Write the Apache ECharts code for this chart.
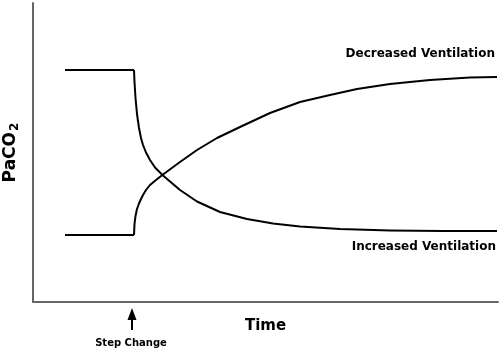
<!DOCTYPE html>
<html>
<head>
<meta charset="utf-8">
<script src="https://cdn.jsdelivr.net/npm/echarts@6/dist/echarts.min.js"></script>
<style>
  html, body { margin: 0; padding: 0; background: #fff; }
  #chart { width: 500px; height: 354px; }
</style>
</head>
<body>
<div id="chart"></div>
<script>
// time / PaCO2 in arbitrary units, step change at t = 101
var flatTime = [32, 101];
var decreasedBefore = [67, 67];
var increasedBefore = [232, 232];

var decreasedTime = [101, 101.5, 102.5, 104, 106, 108, 110, 113, 117, 123, 130, 147, 164, 184, 207, 237, 267, 297, 324, 357, 397, 437, 464];
var decreasedVent = [67, 78, 86, 93, 98.5, 103, 107, 112, 117, 122, 127.5, 140, 152, 164, 175, 189, 200, 207, 213, 218, 222, 224.5, 225];

var increasedTime = [101, 101.5, 102.5, 104, 106, 108, 110, 113, 117, 122, 130, 147, 164, 187, 214, 240, 267, 307, 357, 410, 464];
var increasedVent = [232, 220, 204, 188, 174, 164, 157, 149.5, 142, 134.5, 126.5, 112, 100.5, 90, 83, 78.5, 75.5, 73, 71.5, 71, 71];

var fontFam = "DejaVu Sans";

function pairs(xs, ys) {
    return xs.map(function (x, i) { return [x, ys[i]]; });
}

var lineStyle = { color: "#000", width: 2, join: "round" };

var chart = echarts.init(document.getElementById("chart"));
chart.setOption({
    animation: false,
    grid: { left: 33, right: 2, top: 3, bottom: 52, containLabel: false, outerBoundsMode: "none" },
    xAxis: {
        type: "value",
        min: 0,
        max: 465,
        name: "Time",
        nameLocation: "middle",
        nameGap: 17,
        nameTextStyle: { fontFamily: fontFam, fontWeight: "bold", fontSize: 15, color: "#000" },
        axisLine: { lineStyle: { color: "#666", width: 2 } },
        axisTick: { show: false },
        axisLabel: { show: false },
        splitLine: { show: false }
    },
    yAxis: {
        type: "value",
        min: 0,
        max: 299,
        name: "{a|PaCO}{b|2}",
        nameLocation: "middle",
        nameRotate: 90,
        nameGap: 12,
        nameTextStyle: {
            rich: {
                a: { fontFamily: fontFam, fontWeight: "bold", fontSize: 17, color: "#000" },
                b: { fontFamily: fontFam, fontWeight: "bold", fontSize: 12, color: "#000", padding: [9, 0, 0, 1] }
            }
        },
        axisLine: { show: true, lineStyle: { color: "#666", width: 2 } },
        axisTick: { show: false },
        axisLabel: { show: false },
        splitLine: { show: false }
    },
    series: [
        { type: "line", data: pairs(flatTime, decreasedBefore), showSymbol: false, lineStyle: lineStyle },
        { type: "line", data: pairs(flatTime, increasedBefore), showSymbol: false, lineStyle: lineStyle },
        { type: "line", data: pairs(decreasedTime, decreasedVent), showSymbol: false, lineStyle: lineStyle },
        { type: "line", data: pairs(increasedTime, increasedVent), showSymbol: false, lineStyle: lineStyle }
    ],
    graphic: [
        {
            type: "text", right: 5, top: 48,
            style: { text: "Decreased Ventilation", font: "bold 12px " + fontFam, fill: "#000" }
        },
        {
            type: "text", right: 4, top: 241,
            style: { text: "Increased Ventilation", font: "bold 12px " + fontFam, fill: "#000" }
        },
        {
            type: "line",
            shape: { x1: 132, y1: 330, x2: 132, y2: 318 },
            style: { stroke: "#000", lineWidth: 2 }
        },
        {
            type: "polygon",
            shape: { points: [[132, 308], [127.5, 320], [136.5, 320]] },
            style: { fill: "#000" }
        },
        {
            type: "text", x: 131, y: 343,
            style: { text: "Step Change", font: "bold 10px " + fontFam, fill: "#000", align: "center", verticalAlign: "middle" }
        }
    ]
});
</script>
</body>
</html>
